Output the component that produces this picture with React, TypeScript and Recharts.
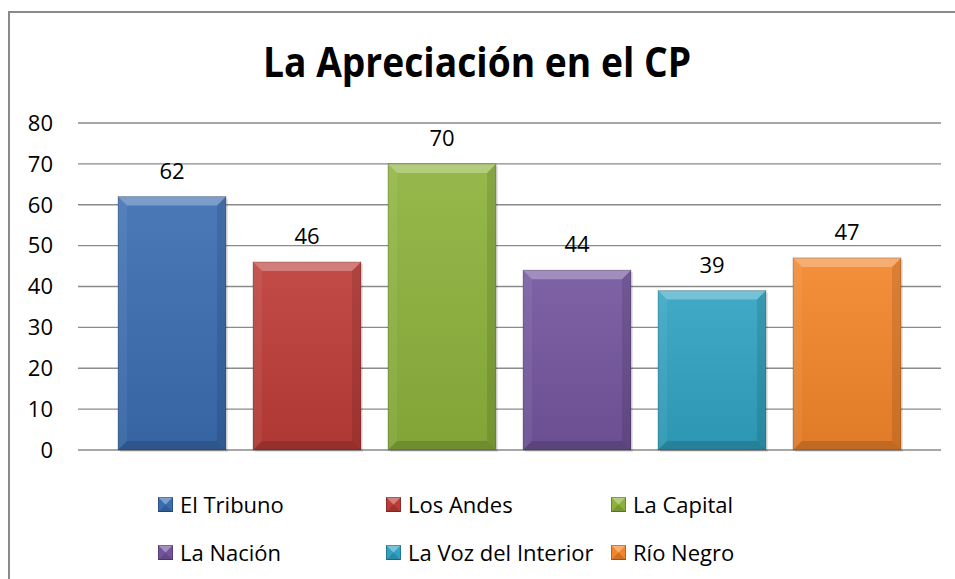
import React from 'react';
import { BarChart, Bar, XAxis, YAxis, CartesianGrid, LabelList, Legend } from 'recharts';

const seriesNames = ['El Tribuno', 'Los Andes', 'La Capital', 'La Nación', 'La Voz del Interior', 'Río Negro'];
const seriesValues = [62, 46, 70, 44, 39, 47];
const seriesColors = ['#3b6db1', '#bd3c38', '#8db23c', '#73559e', '#30a3c2', '#f3852b'];
const yTicks = [0, 10, 20, 30, 40, 50, 60, 70, 80];
const categoryLabel = 'CP';

const row: Record<string, any> = { name: categoryLabel };
seriesNames.forEach((n, i) => {
  row[n] = seriesValues[i];
});
const data = [row];

const FONT = '"Open Sans", "Noto Sans", sans-serif';

const BevelBar = (props: any) => {
  const { x, y, width, height, fill } = props;
  if (width == null || height == null || height <= 0) return null;
  const b = Math.min(9, width / 4, height / 4);
  return (
    <g>
      <rect x={x + 2} y={y + 2} width={width} height={height} fill="#000" opacity={0.1} />
      <rect x={x} y={y} width={width} height={height} fill={fill} />
      <rect x={x} y={y} width={width} height={height} fill="url(#barShade)" />
      <polygon points={`${x},${y} ${x + width},${y} ${x + width - b},${y + b} ${x + b},${y + b}`} fill="#fff" opacity={0.28} />
      <polygon points={`${x},${y} ${x + b},${y + b} ${x + b},${y + height - b} ${x},${y + height}`} fill="#fff" opacity={0.06} />
      <polygon points={`${x + width},${y} ${x + width},${y + height} ${x + width - b},${y + height - b} ${x + width - b},${y + b}`} fill="#000" opacity={0.1} />
      <polygon points={`${x},${y + height} ${x + width},${y + height} ${x + width - b},${y + height - b} ${x + b},${y + height - b}`} fill="#000" opacity={0.14} />
      <rect x={x} y={y} width={width} height={height} fill="none" stroke="#000" strokeOpacity={0.22} strokeWidth={1} />
    </g>
  );
};

const legendCols = [158, 386, 611];
const legendRows = [504, 552];

const LegendContent = (props: any) => {
  const payload = [...(props.payload || [])].sort(
    (a: any, b: any) => seriesNames.indexOf(a.value) - seriesNames.indexOf(b.value)
  );
  return (
    <div style={{ position: 'relative', height: 0, width: 0 }}>
      {payload.map((p: any, i: number) => {
        const col = i % 3;
        const r = Math.floor(i / 3);
        return (
          <div
            key={i}
            style={{
              position: 'absolute',
              left: legendCols[col],
              top: legendRows[r] - 15,
              height: 30,
              display: 'flex',
              alignItems: 'center',
              whiteSpace: 'nowrap',
              fontFamily: FONT,
              fontSize: 22,
              color: '#000',
            }}
          >
            <svg width={15} height={15} style={{ marginRight: 7, flex: 'none' }}>
              <rect x={0} y={0} width={15} height={15} fill={p.color} />
              <polygon points="0,0 15,0 7.5,7.5" fill="#fff" opacity={0.35} />
              <polygon points="0,15 15,15 7.5,7.5" fill="#000" opacity={0.15} />
              <rect x={0.5} y={0.5} width={14} height={14} fill="none" stroke="#000" strokeOpacity={0.25} />
            </svg>
            <span>{p.value}</span>
          </div>
        );
      })}
    </div>
  );
};

export default function App() {
  return (
    <div style={{ position: 'absolute', left: 0, top: 0, width: 955, height: 579, background: '#fff', overflow: 'hidden' }}>
      <div
        style={{
          position: 'absolute',
          left: 8,
          top: 11,
          width: 1200,
          height: 1200,
          borderLeft: '2px solid #8a8a8a',
          borderTop: '2px solid #8a8a8a',
        }}
      />
      <svg width={955} height={100} style={{ position: 'absolute', left: 0, top: 0 }}>
        <text
          x={477}
          y={77}
          textAnchor="middle"
          fontFamily={FONT}
          fontWeight={700}
          fontSize={42}
          fill="#000"
          textLength={428}
          lengthAdjust="spacingAndGlyphs"
        >
          La Apreciación en el CP
        </text>
      </svg>
      <div style={{ position: 'absolute', left: 0, top: 0 }}>
        <BarChart
          width={955}
          height={579}
          data={data}
          margin={{ top: 123, right: 14, bottom: 129, left: 0 }}
          barSize={108}
          barGap={27}
        >
          <defs>
            <linearGradient id="barShade" x1="0" y1="0" x2="0" y2="1">
              <stop offset="0%" stopColor="#fff" stopOpacity={0.08} />
              <stop offset="100%" stopColor="#000" stopOpacity={0.08} />
            </linearGradient>
          </defs>
          <CartesianGrid vertical={false} stroke="#8a8a8a" strokeWidth={1.3} />
          <XAxis dataKey="name" hide />
          <YAxis
            domain={[0, 80]}
            ticks={yTicks}
            width={78}
            axisLine={false}
            tickLine={false}
            tickSize={0}
            tickMargin={25}
            interval={0}
            tick={{ fill: '#000', fontSize: 22, fontFamily: FONT }}
          />
          <Legend
            content={<LegendContent />}
            wrapperStyle={{ position: 'absolute', left: 0, top: 0, width: 0, height: 0 }}
          />
          {seriesNames.map((n, i) => (
            <Bar key={n} dataKey={n} fill={seriesColors[i]} shape={<BevelBar />} isAnimationActive={false}>
              <LabelList dataKey={n} position="top" offset={18} fill="#000" fontSize={22} fontFamily={FONT} />
            </Bar>
          ))}
        </BarChart>
      </div>
    </div>
  );
}
